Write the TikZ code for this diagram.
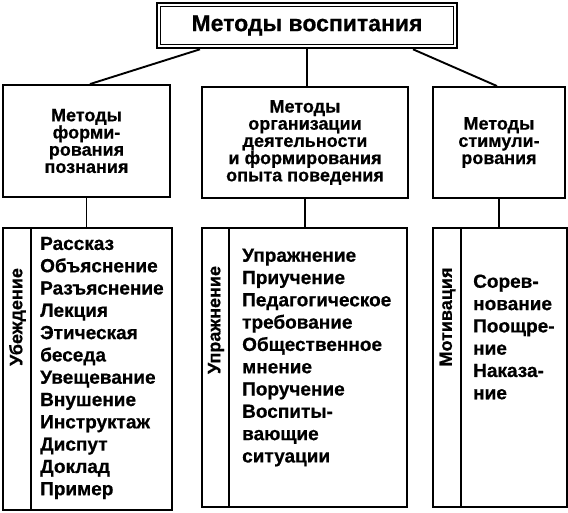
\documentclass[tikz,border=0pt]{standalone}
\usepackage{fontspec}
\setmainfont{Liberation Sans}[BoldFeatures={FakeBold=0.6}]
\tikzset{
  box/.style={draw, line width=1.9pt, inner sep=0pt, align=center,
              font=\bfseries\fontsize{18}{17.2}\selectfont},
  col/.style={draw, line width=1.9pt, inner sep=0pt},
  tag/.style={rotate=90, inner sep=0pt, font=\bfseries\fontsize{18}{18}\selectfont},
  items/.style={anchor=west, align=left, inner sep=0pt,
                font=\bfseries\fontsize{19}{22.3}\selectfont},
  link/.style={line width=1.9pt}
}

\begin{document}
\begin{tikzpicture}[x=1pt, y=-1pt]
  \useasboundingbox (0,0) rectangle (568,512);
  % title with double frame
  \node[draw, line width=2.6pt, minimum width=300pt, minimum height=45pt,
        font=\bfseries\fontsize{23}{24}\selectfont] (title) at (307,25.5) {Методы воспитания};
  \draw[line width=1.3pt] ([shift={(4.5pt,-4.5pt)}]title.north west) rectangle ([shift={(-4.5pt,4.5pt)}]title.south east);

  % groups of methods
  \node[box, minimum width=167pt, minimum height=112pt] (form) at (86.5,141) {Методы\\форми-\\рования\\познания};
  \node[box, minimum width=206pt, minimum height=111pt] (org) at (305,142.5) {Методы\\организации\\деятельности\\и формирования\\опыта поведения};
  \node[box, minimum width=132pt, minimum height=111pt] (stim) at (499,142.5) {Методы\\стимули-\\рования};

  % columns
  \node[col, minimum width=169pt, minimum height=282pt] (persuade) at (87.5,369) {};
  \draw[link] ([xshift=29pt]persuade.north west) -- ([xshift=29pt]persuade.south west);
  \node[tag] (persuadetag) at (17.5,317) {Убеждение};
  \node[items] (persuadelist) at (40,368) {Рассказ\\Объяснение\\Разъяснение\\Лекция\\Этическая\\беседа\\Увещевание\\Внушение\\Инструктаж\\Диспут\\Доклад\\Пример};

  \node[col, minimum width=205pt, minimum height=279pt] (exercise) at (304.5,367.5) {};
  \draw[link] ([xshift=28pt]exercise.north west) -- ([xshift=28pt]exercise.south west);
  \node[tag] (exercisetag) at (216,320) {Упражнение};
  \node[items] (exerciselist) at (242,357.5) {Упражнение\\Приучение\\Педагогическое\\требование\\Общественное\\мнение\\Поручение\\Воспиты-\\вающие\\ситуации};

  \node[col, minimum width=134pt, minimum height=279pt] (motive) at (500,367.5) {};
  \draw[link] ([xshift=29pt]motive.north west) -- ([xshift=29pt]motive.south west);
  \node[tag] (motivetag) at (447.5,317) {Мотивация};
  \node[items] (motivelist) at (473,337) {Сорев-\\нование\\Поощре-\\ние\\Наказа-\\ние};

  % connectors
  \draw[link] ([xshift=-107pt]title.south) -- ([xshift=3.5pt]form.north);
  \draw[link] (title.south) -- (title.south |- org.north);
  \draw[link] ([xshift=106pt]title.south) -- ([xshift=-2pt]stim.north);
  \draw[link] (form.south) -- (form.south |- persuade.north);
  \draw[link] (org.south) -- (org.south |- exercise.north);
  \draw[link] (stim.south) -- (stim.south |- motive.north);
\end{tikzpicture}
\end{document}
